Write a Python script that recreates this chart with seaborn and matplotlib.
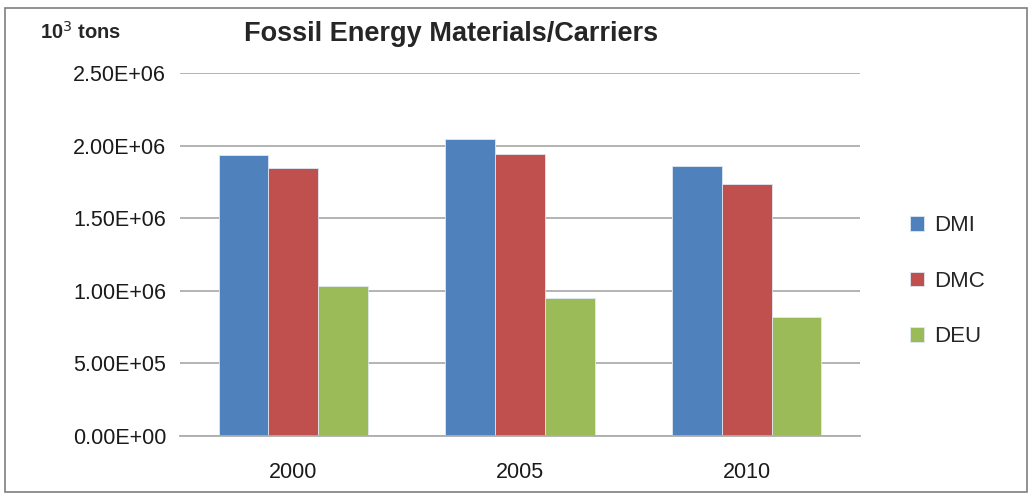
import matplotlib
matplotlib.use("Agg")
import matplotlib.pyplot as plt
import seaborn as sns
import pandas as pd
from matplotlib.patches import Rectangle

years = ["2000", "2005", "2010"]
series = ["DMI", "DMC", "DEU"]
dmi = [1.932e6, 2.045e6, 1.861e6]
dmc = [1.845e6, 1.941e6, 1.738e6]
deu = [1.030e6, 0.948e6, 0.816e6]
yticks = [0, 5e5, 1e6, 1.5e6, 2e6, 2.5e6]
colors = ["#4F81BD", "#C0504D", "#9BBB59"]

rows = []
for s, vals in zip(series, [dmi, dmc, deu]):
    for y, v in zip(years, vals):
        rows.append({"year": y, "series": s, "value": v})
df = pd.DataFrame(rows)

sns.set_style("white")
fams = ["Liberation Sans", "DejaVu Sans"]
plt.rcParams["font.family"] = fams

fig = plt.figure(figsize=(10.31, 4.95), dpi=100)
ax = fig.add_axes([180/1031, 1 - 435.6/495, 680/1031, 362.6/495])

sns.barplot(data=df, x="year", y="value", hue="series", order=years,
            hue_order=series, palette=colors, saturation=1, width=0.66, gap=0,
            edgecolor="#dfe8f3", linewidth=0.6, ax=ax, legend=True)

ax.set_ylim(0, 2.5e6)
ax.set_xlim(-0.5, 2.5)
ax.set_yticks(yticks)
ax.set_yticklabels([f"{v:.2E}" for v in yticks])
ax.yaxis.grid(True, color="#AEAEAE", linewidth=1.3)
ax.set_axisbelow(True)
for sp in ["left", "right", "top"]:
    ax.spines[sp].set_visible(False)
ax.spines["bottom"].set_color("#AEAEAE")
ax.spines["bottom"].set_linewidth(1.3)
ax.tick_params(axis="both", length=0, labelsize=15.5, colors="#1a1a1a")
ax.tick_params(axis="y", pad=10)
ax.tick_params(axis="x", pad=19)
ax.set_xlabel("")
ax.set_ylabel("")

leg = ax.legend(loc="center left", bbox_to_anchor=(890/680 - 180/680, 0.5 - (281 - 254)/362.6),
                frameon=False, fontsize=16, handlelength=0.65, handleheight=0.65,
                labelspacing=1.55, handletextpad=0.45)

fig.text(40/1031, 1 - 32/495, "10$^3$ tons", fontsize=14.5, fontweight="bold",
         va="center", ha="left")
fig.text(451/1031, 1 - 34/495, "Fossil Energy Materials/Carriers", fontsize=19.5,
         fontweight="bold", va="center", ha="center")

fig.patches.append(Rectangle((5/1031, 1 - 492/495), 1022/1031, 484/495,
                             transform=fig.transFigure, fill=False,
                             edgecolor="#7f7f7f", linewidth=1.2))

fig.savefig("out.png", dpi=100)
